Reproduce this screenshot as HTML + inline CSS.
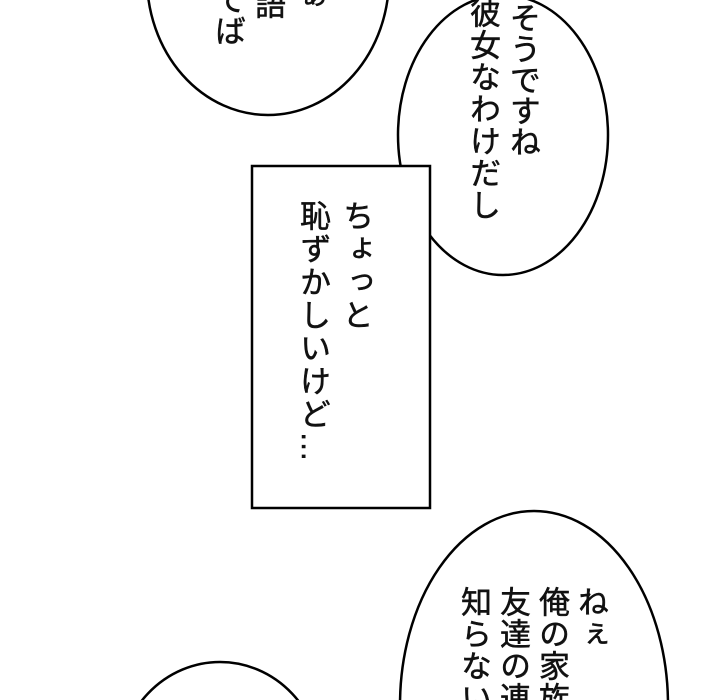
<!DOCTYPE html>
<html style="margin:0;width:720px;height:700px;overflow:hidden"><head><meta charset="utf-8"><style>
body{margin:0;width:720px;height:700px;overflow:hidden;background:#fff;font-family:"Liberation Sans","Noto Sans CJK JP",sans-serif;}
#w{position:relative;width:720px;height:700px;overflow:hidden}
svg{position:absolute;left:0;top:0}
.v{position:absolute;writing-mode:vertical-rl;font-size:31px;line-height:1;color:#111;white-space:nowrap;-webkit-text-stroke:0.5px #111}
</style></head><body><div id="w">
<svg width="720" height="700">
<g fill="#fff" stroke="#000" stroke-width="2.5">
<ellipse cx="268" cy="-22" rx="121" ry="137"/>
<ellipse cx="503" cy="135" rx="105" ry="140"/>
<rect x="252" y="166" width="178" height="342"/>
<ellipse cx="534" cy="705" rx="134" ry="194"/>
<ellipse cx="220" cy="770" rx="102" ry="108"/>
</g>
</svg>
<div class="v" style="left:212px;top:-16px;">てば</div>
<div class="v" style="left:252px;top:-12px;">語</div>
<div class="v" style="left:292px;top:-20px;">ぁ</div>
<div class="v" style="left:507px;top:2px;">そうですね</div>
<div class="v" style="left:467px;top:-3px;letter-spacing:1px">彼女なわけだし</div>
<div class="v" style="left:340px;top:200px;letter-spacing:2px">ちょっと</div>
<div class="v" style="left:297px;top:200px;letter-spacing:2px">恥ずかしいけど…</div>
<div class="v" style="left:575px;top:586px;letter-spacing:1px">ねぇ</div>
<div class="v" style="left:536px;top:586px;letter-spacing:1px">俺の家族</div>
<div class="v" style="left:497px;top:586px;letter-spacing:1px">友達の連</div>
<div class="v" style="left:458px;top:586px;letter-spacing:1px">知らない</div>
</div></body></html>
